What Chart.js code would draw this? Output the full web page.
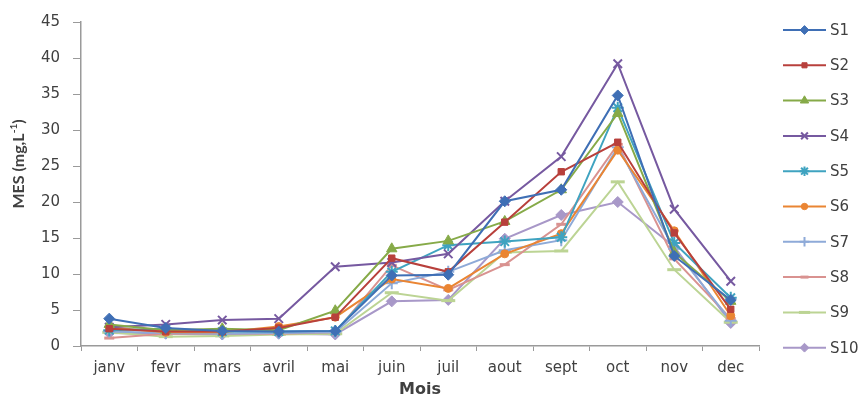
<!DOCTYPE html>
<html>
<head>
<meta charset="utf-8">
<script src="https://cdn.jsdelivr.net/npm/chart.js@4.4.0/dist/chart.umd.min.js"></script>
<style>
  html,body{margin:0;padding:0;background:#fff;}
  #wrap{width:865px;height:401px;position:relative;}
</style>
</head>
<body>
<div id="wrap"><canvas id="chart-mes"></canvas></div>
<script>
// MES mensuelles par station (mg/L)
const MOIS = ['janv','fevr','mars','avril','mai','juin','juil','aout','sept','oct','nov','dec'];

const S1  = [3.8, 2.5, 2.1, 2.0, 2.1,  9.8,  9.9, 20.1, 21.7, 34.8, 12.5, 6.4];
const S2  = [2.4, 2.0, 2.0, 2.5, 4.0, 12.2, 10.3, 17.2, 24.2, 28.3, 15.7, 5.1];
const S3  = [3.0, 2.2, 2.4, 2.2, 4.9, 13.5, 14.6, 17.3, 21.7, 32.3, 13.0, 6.2];
const S4  = [2.6, 3.0, 3.6, 3.8, 11.0, 11.6, 12.8, 20.1, 26.3, 39.2, 19.0, 9.0];
const S5  = [2.2, 2.4, 2.0, 2.0, 2.1, 10.3, 14.0, 14.5, 15.1, 33.1, 14.3, 6.7];
const S6  = [2.6, 1.9, 1.9, 2.7, 4.0,  9.3,  8.0, 12.8, 15.6, 27.2, 16.0, 4.2];
const S7  = [2.0, 1.8, 1.7, 1.8, 1.9,  8.7, 10.3, 13.3, 14.7, 27.6, 13.5, 3.5];
const S8  = [1.1, 1.7, 1.7, 1.7, 1.9, 11.2,  7.8, 11.3, 16.9, 28.0, 12.1, 3.8];
const S9  = [1.9, 1.3, 1.4, 1.6, 1.7,  7.4,  6.3, 13.0, 13.2, 22.8, 10.6, 3.3];
const S10 = [1.8, 1.7, 1.6, 1.7, 1.6,  6.2,  6.4, 14.9, 18.2, 20.0, 13.8, 3.2];

const SERIES = [S1,S2,S3,S4,S5,S6,S7,S8,S9,S10];
const NOMS   = ['S1','S2','S3','S4','S5','S6','S7','S8','S9','S10'];
const Y_TICKS = [0,5,10,15,20,25,30,35,40,45];

const COULEURS = ['#3f6fb5','#b8403c','#86aa48','#7659a0','#3fa3c0','#ea8533','#8eaad8','#d99290','#bcd494','#a898c8'];
const MARQUEURS = [
  {style:'rectRot',  r:5.5, bw:1},
  {style:'rect',     r:4.5, bw:1},
  {style:'triangle', r:6,   bw:1},
  {style:'crossRot', r:6,   bw:2},
  {style:'star',     r:6,   bw:2},
  {style:'circle',   r:4,   bw:1},
  {style:'cross',    r:6,   bw:2},
  {style:'line',     r:5,   bw:3},
  {style:'line',     r:7,   bw:3},
  {style:'rectRot',  r:5.5, bw:1},
];

const GRIS = '#9a9a9a';
const TXT  = '#404040';
const FONT = 'DejaVu Sans';

// titre Y avec exposant + légende à droite
const decor = {
  id:'decor',
  afterDraw(chart) {
    const ctx = chart.ctx;
    ctx.save();
    ctx.fillStyle = TXT;
    ctx.textBaseline = 'middle';

    // "MES (mg,L-1)" vertical
    ctx.translate(19, 164);
    ctx.rotate(-Math.PI/2);
    const fMain = 'bold 16px Lato', fSup = 'bold 10px Lato';
    ctx.font = fMain; const w1 = ctx.measureText('MES (mg,L').width, w3 = ctx.measureText(')').width;
    ctx.font = fSup;  const w2 = ctx.measureText('-1').width;
    let x = -(w1+w2+w3)/2;
    ctx.textAlign = 'left';
    ctx.font = fMain; ctx.fillText('MES (mg,L', x, 0); x += w1;
    ctx.font = fSup;  ctx.fillText('-1', x, -5); x += w2;
    ctx.font = fMain; ctx.fillText(')', x, 0);
    ctx.restore();

    // légende
    ctx.save();
    chart.data.datasets.forEach((ds, i) => {
      const y = 30 + i*35.3;
      ctx.strokeStyle = ds.borderColor; ctx.lineWidth = 2;
      ctx.beginPath(); ctx.moveTo(783, y); ctx.lineTo(826, y); ctx.stroke();
      ctx.fillStyle = ds.borderColor; ctx.strokeStyle = ds.borderColor;
      ctx.lineWidth = ds.pointBorderWidth;
      Chart.helpers.drawPoint(ctx, {pointStyle:ds.pointStyle, radius:ds.pointRadius*0.8, rotation:0, borderWidth:ds.pointBorderWidth}, 804.5, y);
      ctx.fillStyle = TXT; ctx.font = '15px '+FONT;
      ctx.textAlign = 'left'; ctx.textBaseline = 'middle';
      ctx.fillText(ds.label, 830, y+1);
    });
    ctx.restore();
  }
};

const datasets = SERIES.map((d, i) => ({
  label:NOMS[i], data:d,
  borderColor:COULEURS[i], backgroundColor:COULEURS[i],
  borderWidth:2, tension:0,
  pointStyle:MARQUEURS[i].style, pointRadius:MARQUEURS[i].r,
  pointBorderWidth:MARQUEURS[i].bw,
  pointBackgroundColor:COULEURS[i], pointBorderColor:COULEURS[i],
}));

new Chart(document.getElementById('chart-mes'), {
  type:'line',
  data:{labels:MOIS, datasets},
  plugins:[decor],
  options:{
    responsive:true, maintainAspectRatio:false, animation:false,
    layout:{padding:{top:20, right:106, bottom:0, left:0}},
    plugins:{legend:{display:false}, tooltip:{enabled:false}},
    scales:{
      x:{
        offset:true,
        grid:{offset:true, drawOnChartArea:false, drawTicks:true, tickLength:5, color:GRIS},
        border:{color:GRIS, width:1.5},
        ticks:{color:TXT, font:{family:FONT, size:15}, padding:8, maxRotation:0, autoSkip:false},
        title:{display:true, text:'Mois', color:TXT, font:{family:FONT, size:16, weight:'bold'}, padding:{top:0, bottom:2}},
        afterFit(s){ s.height = 55; },
      },
      y:{
        min:0, max:45,
        afterBuildTicks(s){ s.ticks = Y_TICKS.map(v => ({value:v})); },
        grid:{drawOnChartArea:false, drawTicks:true, tickLength:8, color:GRIS},
        border:{color:GRIS, width:1.5},
        ticks:{color:TXT, font:{family:FONT, size:15}, padding:13},
        afterFit(s){ s.width = 81; },
      }
    }
  }
});
</script>
</body>
</html>
